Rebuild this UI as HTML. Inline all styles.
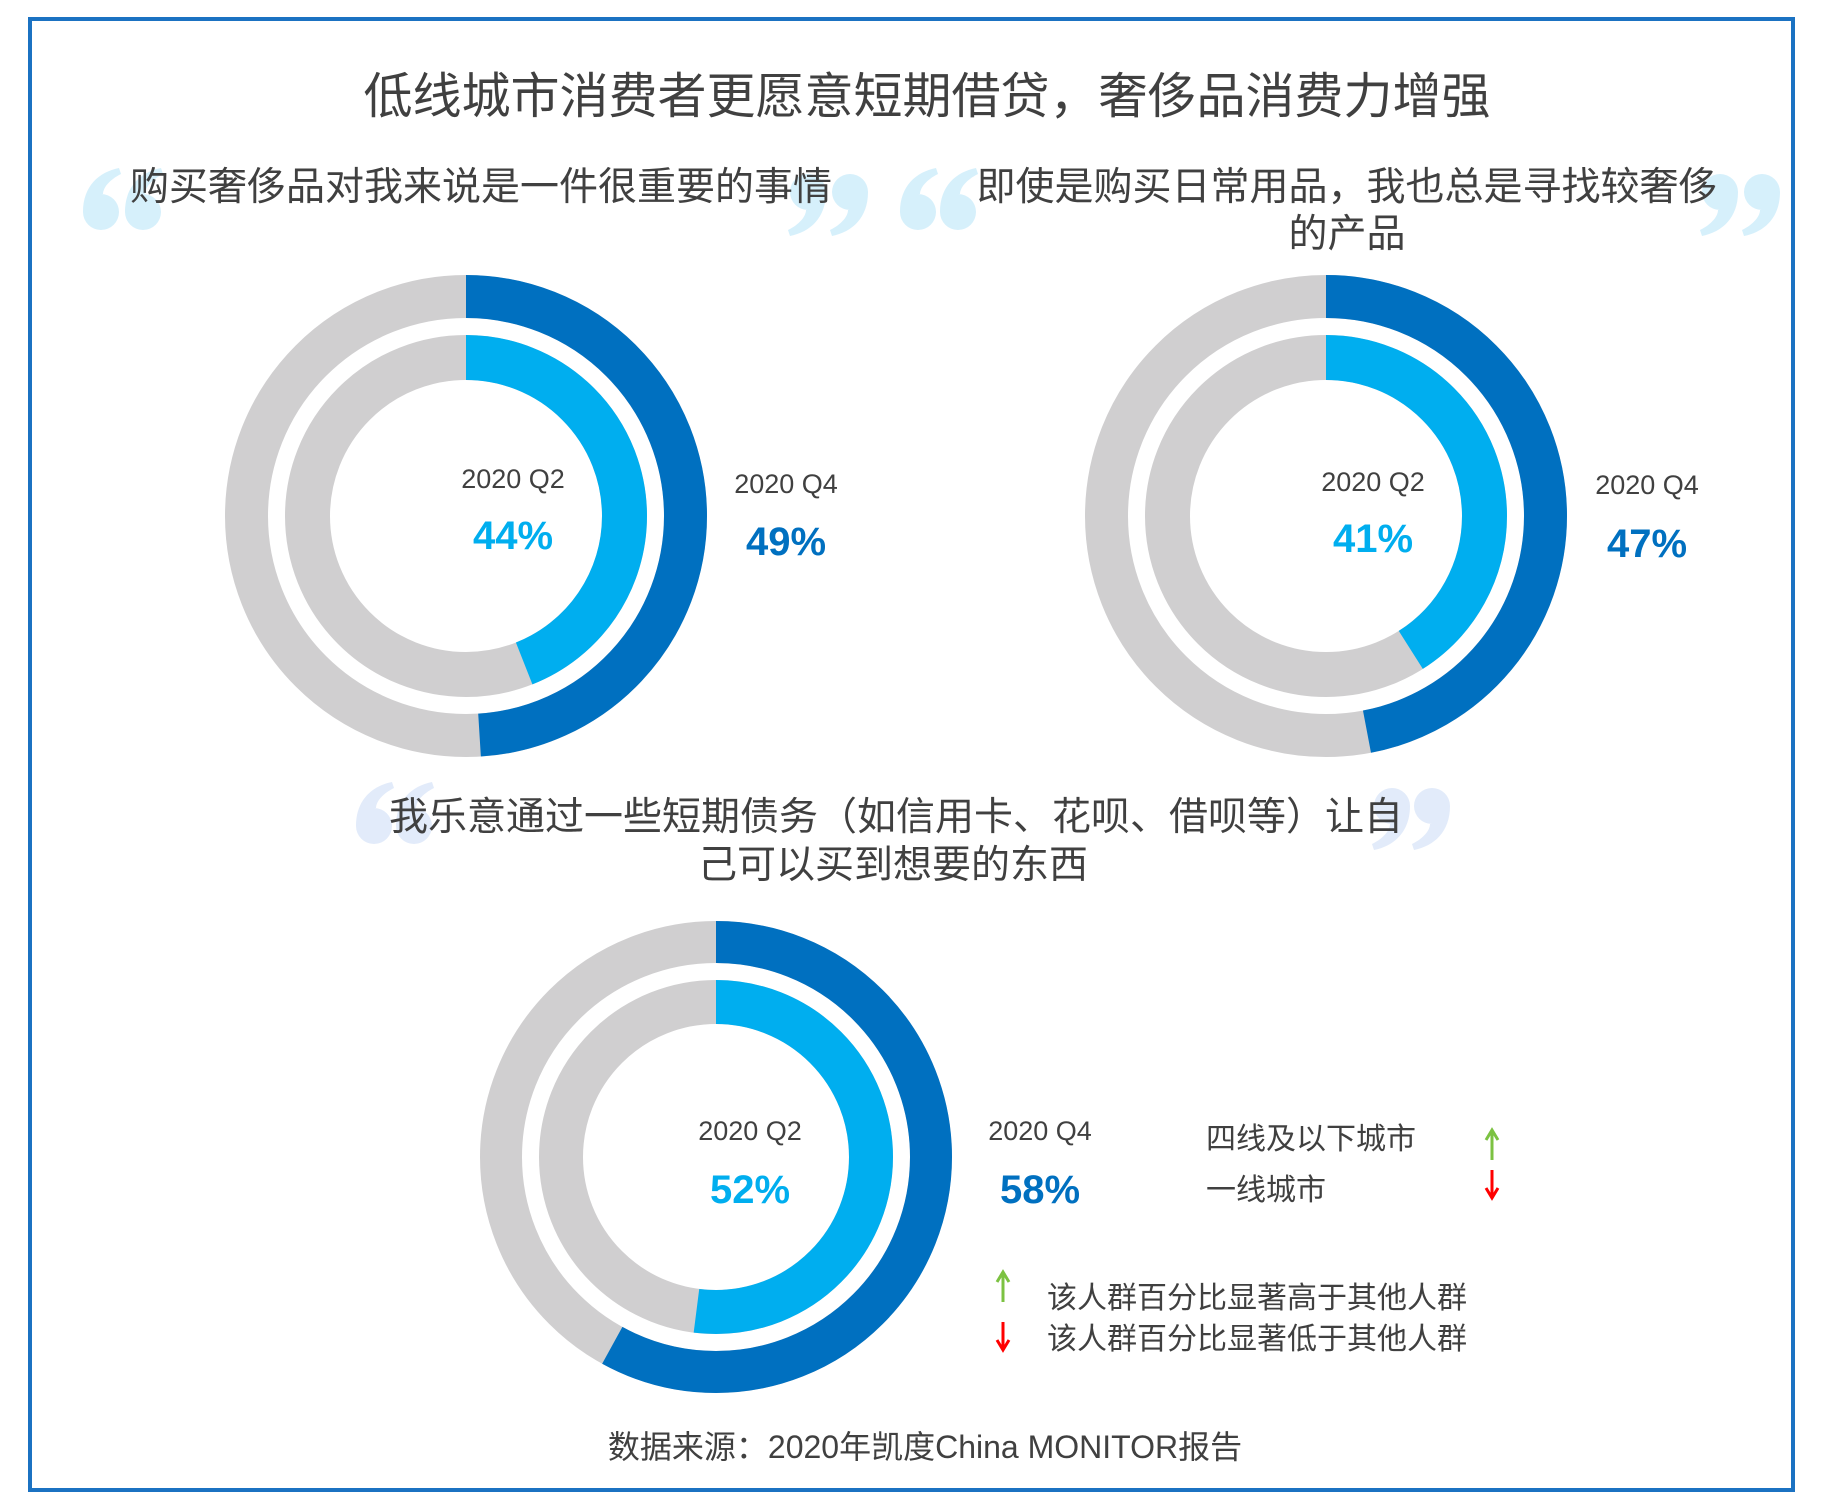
<!DOCTYPE html>
<html><head><meta charset="utf-8"><style>
body{margin:0;background:#fff;}
svg{display:block;}
text{font-family:"Liberation Sans","Noto Sans CJK SC",sans-serif;}
</style></head><body>
<svg width="1824" height="1500" viewBox="0 0 1824 1500" xmlns="http://www.w3.org/2000/svg">
<defs>
<path id="oq" d="M0,-18 A18,18 0 1 1 -18,0 C-18,-26 -2,-40 18,-44 L20,-38 C8,-32 2,-24 2,-18 Z"/>
</defs>
<rect x="30" y="19" width="1763" height="1471" fill="none" stroke="#1b72c2" stroke-width="4"/>
<text x="927" y="113" font-size="49" fill="#404040" text-anchor="middle">低线城市消费者更愿意短期借贷，奢侈品消费力增强</text>

<g fill="#d6f0fb">
<use href="#oq" x="101" y="212"/><use href="#oq" x="143" y="212"/>
<use href="#oq" transform="translate(850,192) rotate(180)"/><use href="#oq" transform="translate(808,192) rotate(180)"/>
<use href="#oq" x="918" y="212"/><use href="#oq" x="958" y="212"/>
<use href="#oq" transform="translate(1762,192) rotate(180)"/><use href="#oq" transform="translate(1720,192) rotate(180)"/>
</g>
<g fill="#e2ebfa">
<use href="#oq" x="374" y="826"/><use href="#oq" x="414" y="826"/>
<use href="#oq" transform="translate(1432,806) rotate(180)"/><use href="#oq" transform="translate(1392,806) rotate(180)"/>
</g>

<g font-size="39" fill="#404040">
<text x="481" y="200" text-anchor="middle">购买奢侈品对我来说是一件很重要的事情</text>
<text x="1347" y="200" text-anchor="middle">即使是购买日常用品，我也总是寻找较奢侈</text>
<text x="1347" y="247" text-anchor="middle">的产品</text>
<text x="896" y="830" text-anchor="middle">我乐意通过一些短期债务（如信用卡、花呗、借呗等）让自</text>
<text x="893" y="878" text-anchor="middle">己可以买到想要的东西</text>
</g>

<!-- chart 1: outer C=1379.2, inner C=995.9 -->
<g transform="translate(466,516) rotate(-90)" fill="none">
<circle r="219.5" stroke="#d0cfd0" stroke-width="43"/>
<circle r="219.5" stroke="#0070c0" stroke-width="43" stroke-dasharray="675.8 2000"/>
<circle r="158.5" stroke="#d0cfd0" stroke-width="45"/>
<circle r="158.5" stroke="#00aeef" stroke-width="45" stroke-dasharray="438.2 2000"/>
</g>
<g transform="translate(1326,516) rotate(-90)" fill="none">
<circle r="219.5" stroke="#d0cfd0" stroke-width="43"/>
<circle r="219.5" stroke="#0070c0" stroke-width="43" stroke-dasharray="648.2 2000"/>
<circle r="158.5" stroke="#d0cfd0" stroke-width="45"/>
<circle r="158.5" stroke="#00aeef" stroke-width="45" stroke-dasharray="408.3 2000"/>
</g>
<!-- chart 3: outer C=1350.9, inner C=973.9 -->
<g transform="translate(716,1157) rotate(-90)" fill="none">
<circle r="215" stroke="#d0cfd0" stroke-width="42"/>
<circle r="215" stroke="#0070c0" stroke-width="42" stroke-dasharray="783.5 2000"/>
<circle r="155" stroke="#d0cfd0" stroke-width="44"/>
<circle r="155" stroke="#00aeef" stroke-width="44" stroke-dasharray="506.4 2000"/>
</g>

<g font-size="27" fill="#404040" text-anchor="middle">
<text x="513" y="488">2020 Q2</text>
<text x="786" y="493">2020 Q4</text>
<text x="1373" y="491">2020 Q2</text>
<text x="1647" y="494">2020 Q4</text>
<text x="750" y="1140">2020 Q2</text>
<text x="1040" y="1140">2020 Q4</text>
</g>
<g font-size="40" font-weight="bold" text-anchor="middle">
<text x="513" y="549" fill="#00aeef">44%</text>
<text x="786" y="555" fill="#0070c0">49%</text>
<text x="1373" y="552" fill="#00aeef">41%</text>
<text x="1647" y="557" fill="#0070c0">47%</text>
<text x="750" y="1203" fill="#00aeef">52%</text>
<text x="1040" y="1203" fill="#0070c0">58%</text>
</g>

<g font-size="30" fill="#404040">
<text x="1206" y="1149">四线及以下城市</text>
<text x="1206" y="1200">一线城市</text>
<text x="1047" y="1308">该人群百分比显著高于其他人群</text>
<text x="1047" y="1349">该人群百分比显著低于其他人群</text>
</g>
<g stroke-width="3" fill="none">
<path d="M1492,1160 V1132 M1486,1140 L1492,1130 L1498,1140" stroke="#7cc242"/>
<path d="M1492,1170 V1196 M1486,1188 L1492,1198 L1498,1188" stroke="#ff0000"/>
<path d="M1003,1302 V1274 M997,1282 L1003,1272 L1009,1282" stroke="#7cc242"/>
<path d="M1003,1322 V1348 M997,1340 L1003,1350 L1009,1340" stroke="#ff0000"/>
</g>
<text x="925" y="1458" font-size="32" fill="#404040" text-anchor="middle">数据来源：2020年凯度China MONITOR报告</text>
</svg>
</body></html>
